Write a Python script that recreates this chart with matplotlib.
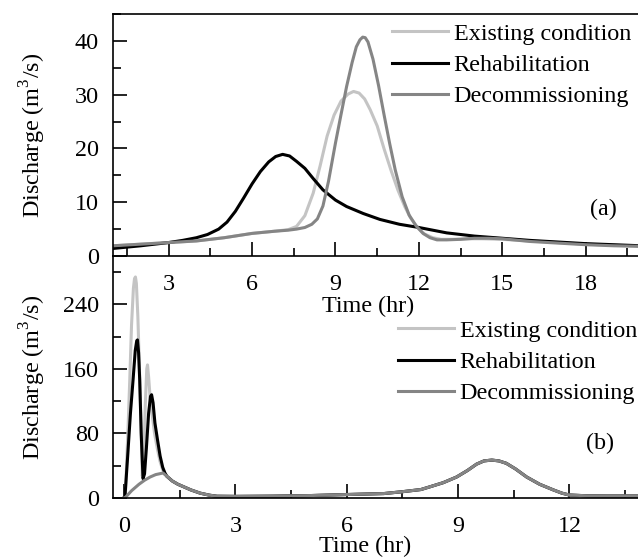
import matplotlib
matplotlib.use('Agg')
import matplotlib.pyplot as plt
from matplotlib.ticker import MultipleLocator

plt.rcParams['font.family'] = ['Liberation Serif', 'DejaVu Serif']
plt.rcParams['mathtext.fontset'] = 'custom'
plt.rcParams['mathtext.rm'] = 'Liberation Serif'
plt.rcParams['font.size'] = 17.4

# (a) hydrographs
a_exist_t = [1, 2, 3, 4, 5, 6, 6.8, 7.3, 7.6, 7.9, 8.2, 8.45, 8.7, 8.95, 9.2, 9.45, 9.65, 9.85,
             10.05, 10.25, 10.5, 10.75, 11.0, 11.25, 11.5, 11.7, 11.95, 12.2, 12.5, 12.8, 13.2,
             13.7, 14.3, 15, 16, 17, 18, 19, 20]
a_exist_q = [1.9, 2.2, 2.5, 2.8, 3.4, 4.2, 4.6, 4.9, 5.5, 7.5, 11.7, 16.8, 22.3, 26.2, 28.8, 30.1,
             30.6, 30.3, 29.2, 27.2, 24.2, 19.9, 15.9, 12.2, 9.1, 7.1, 5.3, 4.1, 3.4, 3.1, 3.1,
             3.2, 3.2, 3.1, 2.8, 2.5, 2.2, 2.0, 1.8]

a_rehab_t = [1, 2, 3, 3.5, 4.0, 4.4, 4.8, 5.1, 5.4, 5.7, 6.0, 6.3, 6.6, 6.85, 7.1, 7.35, 7.6,
             7.9, 8.2, 8.55, 9.0, 9.4, 10.0, 10.6, 11.3, 12.0, 13.0, 14.0, 15.0, 16.0, 17.0,
             18.0, 19.0, 20.0]
a_rehab_q = [1.4, 1.9, 2.5, 2.9, 3.4, 4.0, 5.0, 6.3, 8.3, 10.8, 13.4, 15.7, 17.5, 18.5, 18.9,
             18.6, 17.6, 16.3, 14.4, 12.3, 10.4, 9.2, 7.9, 6.8, 5.9, 5.3, 4.3, 3.7, 3.3, 2.9, 2.6,
             2.3, 2.1, 1.9]

a_decom_t = [1, 2, 3, 4, 5, 6, 6.8, 7.3, 7.6, 7.9, 8.15, 8.35, 8.55, 8.75, 9.0, 9.2, 9.4, 9.6,
             9.75, 9.88, 9.98, 10.07, 10.17, 10.35, 10.55, 10.75, 10.95, 11.15, 11.4, 11.65,
             11.9, 12.15, 12.4, 12.65, 13.0, 13.5, 14.0, 14.5, 15, 16, 17, 18, 19, 20]
a_decom_q = [1.9, 2.2, 2.5, 2.8, 3.4, 4.2, 4.6, 4.8, 5.0, 5.3, 5.9, 6.9, 9.3, 13.9, 21.0, 26.3,
             31.5, 36.0, 38.9, 40.2, 40.7, 40.6, 39.8, 36.6, 31.7, 26.2, 20.9, 16.0, 11.0, 7.6,
             5.6, 4.2, 3.4, 3.0, 3.0, 3.1, 3.3, 3.3, 3.2, 2.7, 2.4, 2.1, 1.9, 1.8]

# (b) hydrographs
b_tail_t = [1.15, 1.3, 1.45, 1.6, 1.8, 2.05, 2.3, 2.5, 3.0, 4.0, 5.0, 6.0, 7.0, 7.5, 8.0, 8.25,
            8.6, 8.96, 9.25, 9.5, 9.7, 9.91, 10.1, 10.3, 10.55, 10.85, 11.2, 11.57, 11.8, 12.0,
            12.5, 13.0, 14.0]
b_tail_q = [27, 21, 17, 14, 10, 6, 3.5, 2.2, 2.0, 2.3, 3.0, 4.3, 5.5, 7.8, 10.5, 14, 19, 26, 34,
            42, 46, 47, 46, 43, 36, 26, 17, 10, 6, 3.7, 2.7, 2.5, 2.5]

b_exist_t = [0, 0.03, 0.1, 0.15, 0.2, 0.25, 0.28, 0.305, 0.33, 0.37, 0.41, 0.45, 0.49, 0.53,
             0.57, 0.61, 0.63, 0.66, 0.7, 0.75, 0.82, 0.9, 0.97, 1.04, 1.1]
b_exist_q = [0, 0, 80, 144, 215, 260, 272, 274, 266, 225, 165, 100, 27, 45, 115, 160, 165, 150,
             125, 105, 80, 60, 45, 35, 30]

b_rehab_t = [0, 0.02, 0.1, 0.17, 0.24, 0.3, 0.34, 0.36, 0.39, 0.42, 0.46, 0.51, 0.55, 0.6,
             0.66, 0.71, 0.74, 0.78, 0.83, 0.9, 0.97, 1.04, 1.1]
b_rehab_q = [0, 0, 55, 105, 146, 183, 195, 196, 180, 146, 80, 24, 30, 62, 105, 126, 128, 118,
             93, 72, 52, 38, 31]

b_decom_t = [0, 0.02, 0.2, 0.4, 0.55, 0.7, 0.85, 1.05]
b_decom_q = [0, 0, 9, 17, 22, 26, 29, 31]

labels = ['Existing condition', 'Rehabilitation', 'Decommissioning']
colors = ['#c4c4c4', '#000000', '#858585']

fig = plt.figure(figsize=(6.38, 5.6), dpi=100)
ax1 = fig.add_axes([113/638, 1 - 256/560, 1 - 113/638, 242/560])
ax2 = fig.add_axes([113/638, 1 - 498/560, 1 - 113/638, 242/560])

ax1.plot(a_exist_t, a_exist_q, color=colors[0], lw=2.2, label=labels[0])
ax1.plot(a_rehab_t, a_rehab_q, color=colors[1], lw=2.2, label=labels[1])
ax1.plot(a_decom_t, a_decom_q, color=colors[2], lw=2.2, label=labels[2])

ax2.plot(b_exist_t + b_tail_t, b_exist_q + b_tail_q, color=colors[0], lw=2.2, label=labels[0])
ax2.plot(b_rehab_t + b_tail_t, b_rehab_q + b_tail_q, color=colors[1], lw=2.2, label=labels[1])
ax2.plot(b_decom_t + b_tail_t, b_decom_q + b_tail_q, color=colors[2], lw=2.2, label=labels[2])

ax1.set_xlim(1, 19.88)
ax1.set_ylim(0, 45)
ax1.xaxis.set_major_locator(MultipleLocator(3))
ax1.xaxis.set_minor_locator(MultipleLocator(1.5))
ax1.yaxis.set_major_locator(MultipleLocator(10))
ax1.yaxis.set_minor_locator(MultipleLocator(5))

ax2.set_xlim(-0.3, 13.85)
ax2.set_ylim(0, 300)
ax2.xaxis.set_major_locator(MultipleLocator(3))
ax2.xaxis.set_minor_locator(MultipleLocator(1.5))
ax2.yaxis.set_major_locator(MultipleLocator(80))
ax2.yaxis.set_minor_locator(MultipleLocator(40))

for ax in (ax1, ax2):
    ax.patch.set_visible(False)
    ax.spines['right'].set_visible(False)
    for s in ax.spines.values():
        s.set_linewidth(1.2)
    ax.tick_params(which='major', direction='in', length=10, width=1.2, pad=13)
    ax.tick_params(which='minor', direction='in', length=6, width=1.2)
    ax.tick_params(axis='y', which='major', pad=10)
    ax.set_ylabel('Discharge (m$^3$/s)')
    ax.yaxis.set_label_coords(-0.123, 0.5)
    ax.set_xlabel('Time (hr)', labelpad=0)
    ax.legend(frameon=False, loc='upper left', handlelength=2.3, handletextpad=0.25,
              labelspacing=0.38, borderpad=0, borderaxespad=0,
              bbox_transform=fig.transFigure,
              bbox_to_anchor=(392/638, 1 - 23/560) if ax is ax1 else (398/638, 1 - 320/560))

ax2.spines['top'].set_visible(False)
ax1.xaxis.set_label_coords(0.486, -0.165)
ax2.xaxis.set_label_coords(0.48, -0.158)

fig.text(603/638, 1 - 209/560, '(a)', ha='center', va='center')
fig.text(600/638, 1 - 443/560, '(b)', ha='center', va='center')

fig.savefig('out.png', dpi=100)
